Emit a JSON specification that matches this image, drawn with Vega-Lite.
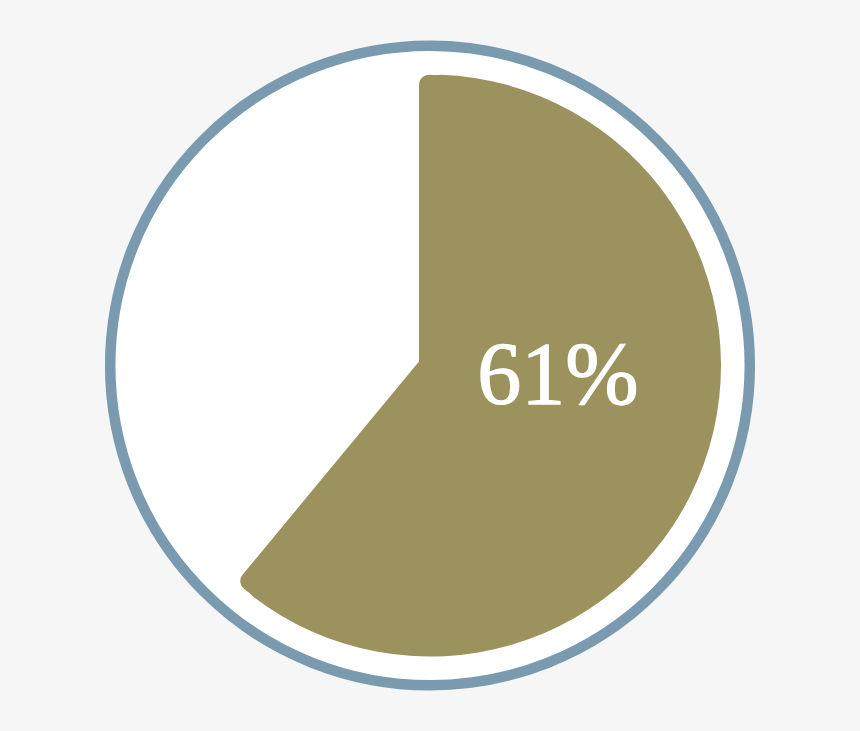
{
  "$schema": "https://vega.github.io/schema/vega-lite/v6.json",
  "autosize": {"type": "fit", "contains": "padding"},
  "width": 860,
  "height": 731,
  "padding": 0,
  "background": "#f6f6f6",
  "config": {"view": {"stroke": null}},
  "data": {
    "values": [
      {"answer": "Yes", "share": 0.61},
      {"answer": "No", "share": 0.39}
    ]
  },
  "layer": [
    {
      "transform": [{"filter": "datum.answer == 'Yes'"}],
      "mark": {
        "type": "arc",
        "theta": 0,
        "theta2": 6.2832,
        "radius": 319.8,
        "fill": "#ffffff",
        "stroke": "#7a9aaf",
        "strokeWidth": 10.5
      },
      "encoding": {}
    },
    {
      "transform": [{"filter": "datum.answer == 'Yes'"}],
      "mark": {"type": "arc", "radius": 291, "cornerRadius": 10, "color": "#9b925d"},
      "encoding": {
        "theta": {"field": "share", "type": "quantitative", "scale": {"domain": [0, 1]}}
      }
    },
    {
      "transform": [{"filter": "datum.answer == 'Yes'"}],
      "mark": {"type": "arc", "radius": 287, "cornerRadius": 10, "color": "#9b925d", "xOffset": -11, "yOffset": -4},
      "encoding": {
        "theta": {"field": "share", "type": "quantitative", "scale": {"domain": [0, 1]}}
      }
    },
    {
      "transform": [{"filter": "datum.answer == 'Yes'"}],
      "mark": {
        "type": "text",
        "font": "Liberation Serif",
        "fontSize": 88,
        "color": "#ffffff",
        "stroke": "#ffffff",
        "strokeWidth": 1.3,
        "align": "center",
        "baseline": "alphabetic",
        "dx": 128,
        "dy": 37
      },
      "encoding": {
        "text": {"field": "share", "type": "quantitative", "format": ".0%"}
      }
    }
  ]
}
